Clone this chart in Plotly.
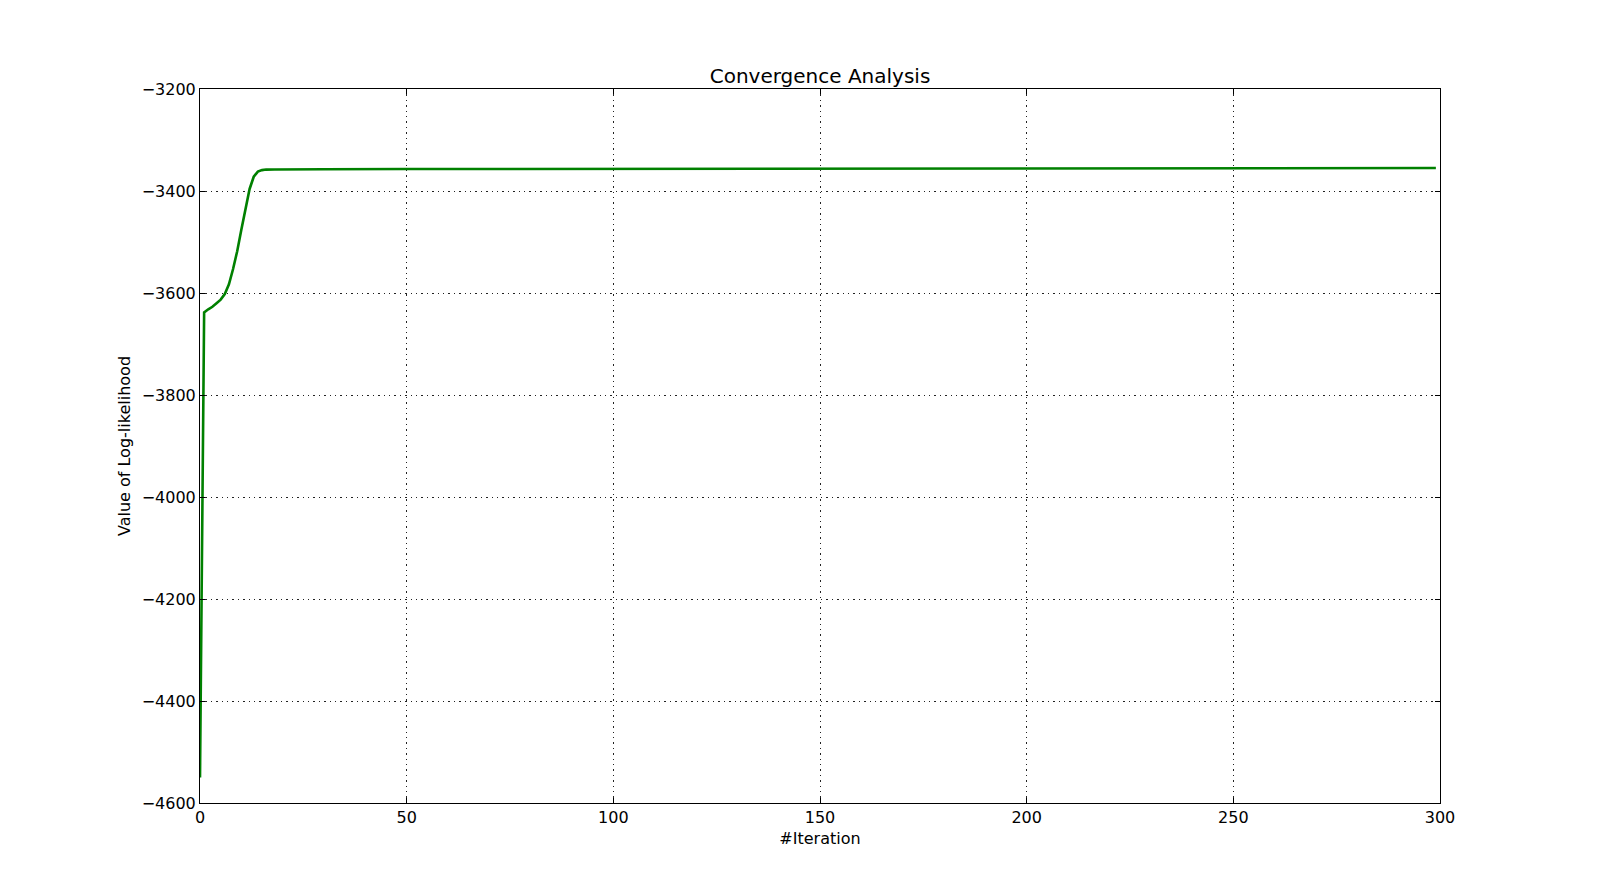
import plotly.graph_objects as go

# log-likelihood, per EM iteration
iterations = [0, 1, 2, 3, 4, 5, 6, 7, 8, 9, 10, 11, 12, 13, 14, 15, 16, 18, 20,
              30, 50, 100, 150, 200, 250, 299]
log_likelihood = [-4550, -3638, -3632, -3627, -3620, -3613, -3602, -3583, -3553,
                  -3518, -3476, -3432, -3396, -3372, -3362, -3359, -3358, -3357.8,
                  -3357.6, -3357.3, -3357, -3356.5, -3356, -3355.6, -3355.3, -3355]

x_ticks = [0, 50, 100, 150, 200, 250, 300]
y_ticks = [-4600, -4400, -4200, -4000, -3800, -3600, -3400, -3200]

font_family = 'DejaVu Sans, Liberation Sans, sans-serif'

fig = go.Figure()
fig.add_trace(go.Scatter(x=iterations, y=log_likelihood,
                         mode='lines', name='log-likelihood',
                         line={'color': '#008000', 'width': 2.6}))

axis_style = dict(showline=True, linecolor='black', linewidth=1, mirror='allticks',
                  ticks='inside', ticklen=5, tickwidth=1, tickcolor='black',
                  showgrid=True, gridcolor='#222222', gridwidth=0.7, griddash='1.4px,4px',
                  zeroline=False, tickfont={'size': 16, 'color': 'black'},
                  title_font={'size': 16, 'color': 'black'})

fig.update_xaxes(range=[0, 300], tickvals=x_ticks, title_text='#Iteration',
                 title_standoff=6, **axis_style)
fig.update_yaxes(range=[-4600, -3200], tickvals=y_ticks,
                 title_text='Value of Log-likelihood', title_standoff=7, **axis_style)

# the page adds an 8px offset, so margins are shifted to keep the axes in place
fig.update_layout(width=1600, height=892,
                  margin={'l': 192, 'r': 168, 't': 81, 'b': 97},
                  paper_bgcolor='white', plot_bgcolor='white',
                  font={'family': font_family, 'color': 'black'},
                  title={'text': 'Convergence Analysis', 'x': 0.5, 'xref': 'paper',
                         'y': 1 - 75 / 892, 'yref': 'container', 'yanchor': 'bottom',
                         'font': {'size': 20, 'color': 'black'}},
                  showlegend=False)

fig.write_html("out.html")
